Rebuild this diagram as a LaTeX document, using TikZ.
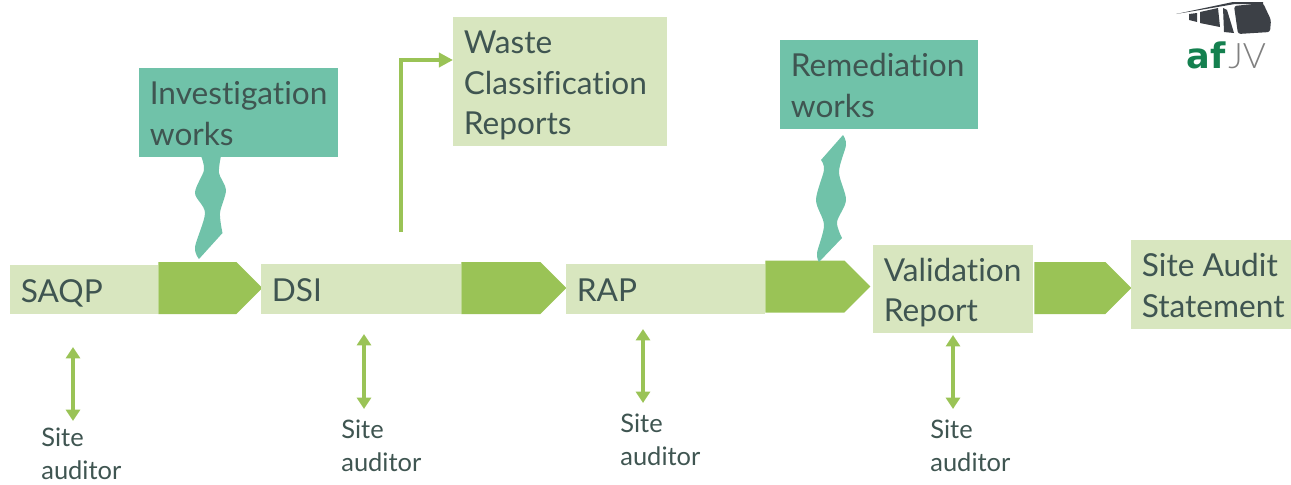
\documentclass[tikz,border=0pt]{standalone}
\usepackage{fontspec}
\setmainfont[Ligatures=NoCommon]{Lato}
\usetikzlibrary{arrows.meta,shapes.symbols}
\definecolor{palegreen}{HTML}{D8E6BF}
\definecolor{midgreen}{HTML}{9AC356}
\definecolor{tealbox}{HTML}{70C2A9}
\definecolor{boxtext}{HTML}{3F5551}
\definecolor{logodark}{HTML}{3C4046}
\definecolor{logogreen}{HTML}{14804F}
\newcommand{\boxfont}{\fontsize{18}{22.8}\selectfont}
\newcommand{\smallfont}{\fontsize{14.5}{18.8}\selectfont}
\begin{document}
\begin{tikzpicture}[x=0.02cm,y=-0.02cm,
    stagebox/.style 2 args={fill=palegreen,text=boxtext,font=\boxfont,align=flush left,inner xsep=0.21cm,inner ysep=0pt,text width=#1*0.02cm-0.42cm,minimum height=#2*0.02cm,execute at begin node={\leavevmode\rule{0pt}{0.7cm}},execute at end node={\rule[-0.2cm]{0pt}{0pt}}},
    workbox/.style 2 args={stagebox={#1}{#2},fill=tealbox},
    stage_arrow/.style={signal,signal to=east,signal pointer angle=90,fill=midgreen,inner sep=0pt,minimum width=#1*0.02cm,minimum height=1.04cm},
    blob/.style={fill=tealbox},
    link/.style={draw=midgreen,line width=2.2pt},
    audit_link/.style={draw=midgreen,line width=1.9pt,{Triangle[length=6.5pt,width=8pt]}-{Triangle[length=6.5pt,width=8pt]}},
    auditor/.style={text=boxtext,font=\smallfont,align=left,anchor=north west,inner sep=0pt}]
    \useasboundingbox (0,0) rectangle (1291,484);
    % stages along the line
    \node[stagebox={148}{49},anchor=west] (saqp) at (10,289.5) {SAQP};
    \node[stage_arrow=104,anchor=west] (arrow1) at (158,288) {};
    \node[stagebox={200}{50},anchor=west] (dsi) at (261,289) {DSI};
    \node[stage_arrow=105,anchor=west] (arrow2) at (461,288) {};
    \node[stagebox={199}{50},anchor=west] (rap) at (566,289) {RAP};
    \node[stage_arrow=105,anchor=west] (arrow3) at (765,286.5) {};
    \node[stagebox={160}{88},anchor=west] (validation) at (873,289) {Validation\\Report};
    \node[stage_arrow=97,anchor=west] (arrow4) at (1034,288) {};
    \node[stagebox={160}{89},anchor=west] (statement) at (1131,284.5) {Site Audit\\Statement};
    % boxes above
    \node[workbox={199}{89},anchor=west] (investigation) at (139,112.5) {Investigation\\works};
    \node[stagebox={214}{129},anchor=west] (waste) at (453,81.5) {Waste\\Classification\\Reports};
    \node[workbox={198}{89},anchor=west] (remediation) at (780,84.5) {Remediation\\works};
    % wavy links
    \fill[blob] plot[smooth] coordinates {(201,156) (204,170) (195,193) (205,213) (195,247) (199,259)}
        -- plot[smooth] coordinates {(222.5,233) (220,213) (226,190) (219,173) (221,156)} -- cycle;
    \fill[blob] plot[smooth] coordinates {(843,135) (846,145) (839,172) (846,200) (837,222) (842,238)}
        -- plot[smooth] coordinates {(819,262) (817,253) (824,225) (816,200) (824,170) (821,160)} -- cycle;
    % bent arrow up to the reports
    \coordinate (bentstart) at (401,232);
    \coordinate (bentend) at (453,60);
    \draw[link,-{Triangle[length=8pt,width=8pt]}] (bentstart) |- (bentend);
    % site auditors
    \node[auditor] (auditor1) at (41,428) {Site\\auditor};
    \node[auditor] (auditor2) at (341,420) {Site\\auditor};
    \node[auditor] (auditor3) at (620,414) {Site\\auditor};
    \node[auditor] (auditor4) at (930,420) {Site\\auditor};
    \coordinate (up1) at (73,347);
    \coordinate (down1) at (73,421);
    \coordinate (up2) at (364,334);
    \coordinate (down2) at (364,409);
    \coordinate (up3) at (643,329);
    \coordinate (down3) at (643,403);
    \coordinate (up4) at (953,335);
    \coordinate (down4) at (953,409);
    \draw[audit_link] (up1) -- (down1);
    \draw[audit_link] (up2) -- (down2);
    \draw[audit_link] (up3) -- (down3);
    \draw[audit_link] (up4) -- (down4);
    % logo
    \fill[logodark,rounded corners=1.5pt] (1234,6) -- (1263,3) -- (1271,20) -- (1270,32) -- (1238,34) -- cycle;
    \fill[logodark] (1176,14) -- (1233,2) -- (1263,2) -- (1263,4) -- (1235,4) -- (1200,10) -- cycle;
    \fill[logodark] (1189,14) -- (1197,13) -- (1197,22) -- (1189,20) -- cycle;
    \fill[logodark] (1200,12) -- (1218,8) -- (1220,27) -- (1200,23) -- cycle;
    \fill[logodark] (1223,8) -- (1227,10) -- (1234,33) -- (1224,32) -- cycle;
    \node[anchor=base west,inner sep=0pt,text=logogreen,font=\fontsize{20}{20}\fontspec{DejaVu Sans}\bfseries] (af) at (1186,68) {af};
    \node[anchor=base west,inner sep=0pt,text=gray,font=\fontsize{20}{20}\fontspec{Lato Light}] (jv) at (1228,68) {JV};
\end{tikzpicture}
\end{document}
